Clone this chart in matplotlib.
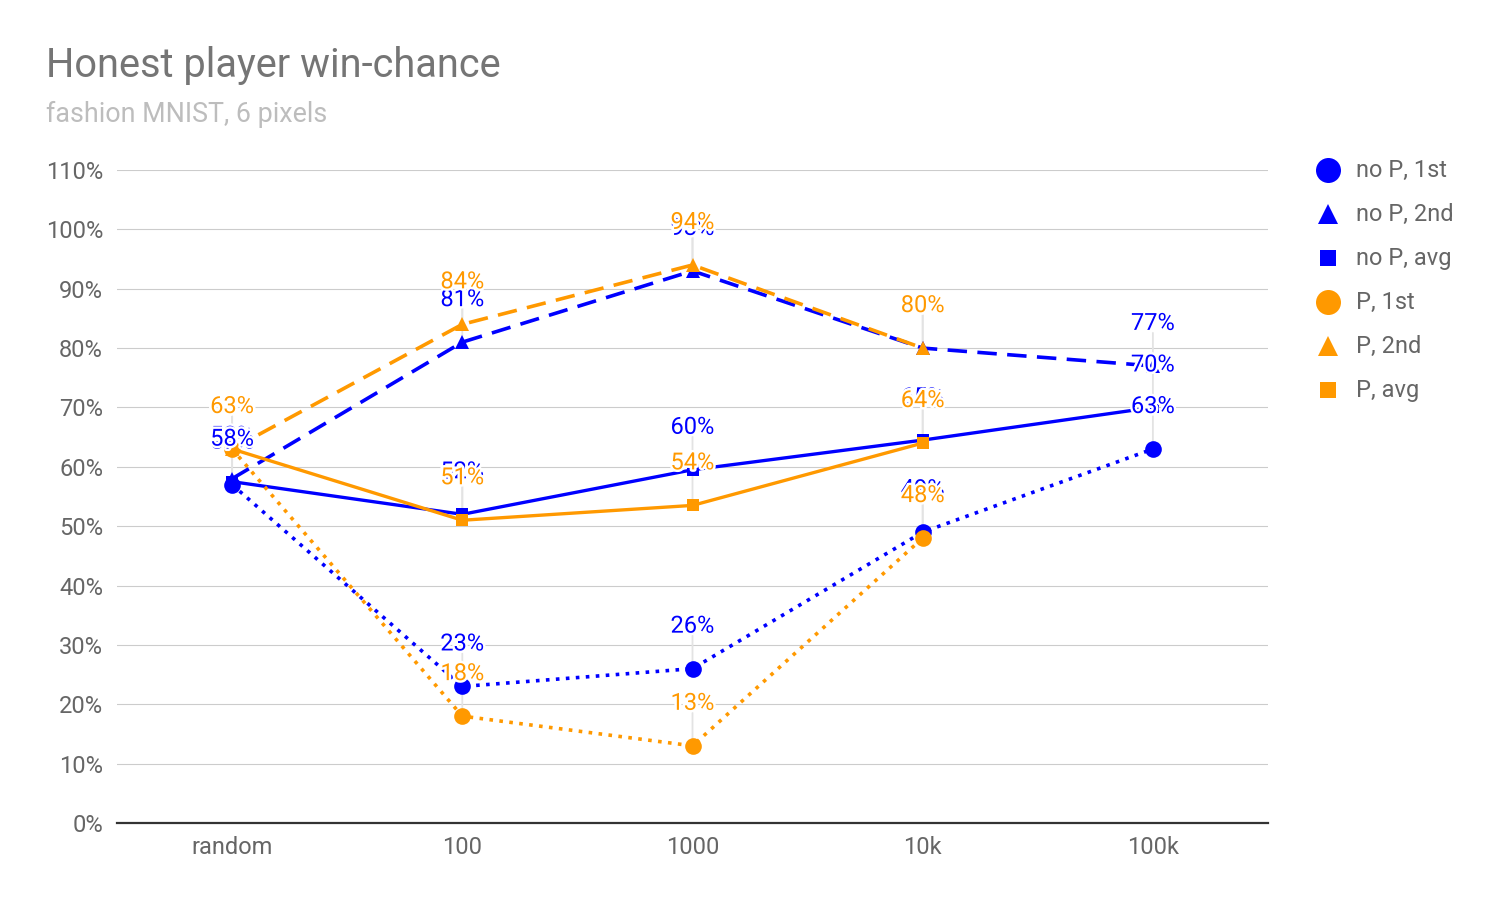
import matplotlib
matplotlib.use("Agg")
import matplotlib.pyplot as plt
from matplotlib.lines import Line2D
import matplotlib.patheffects as pe

plt.rcParams['font.family'] = ['Roboto', 'DejaVu Sans']
plt.rcParams['lines.scale_dashes'] = False

categories = ["random", "100", "1000", "10k", "100k"]

noP_1st = [57, 23, 26, 49, 63]
noP_2nd = [58, 81, 93, 80, 77]
noP_avg = [57.5, 52, 59.5, 64.5, 70]
P_1st = [63, 18, 13, 48]
P_2nd = [63, 84, 94, 80]
P_avg = [63, 51, 53.5, 64]

series_names = ["no P, 1st", "no P, 2nd", "no P, avg", "P, 1st", "P, 2nd", "P, avg"]
series_values = [noP_1st, noP_2nd, noP_avg, P_1st, P_2nd, P_avg]

y_ticks = list(range(0, 111, 10))

BLUE = "#0000ff"
ORANGE = "#ff9900"
styles = [
    dict(color=BLUE, marker="o", ms=12, ls=(0, (2.6, 4.6)), lw=2.6),
    dict(color=BLUE, marker="^", ms=10.5, ls=(0, (14, 7.5)), lw=2.6),
    dict(color=BLUE, marker="s", ms=9, ls="-", lw=2.4),
    dict(color=ORANGE, marker="o", ms=12, ls=(0, (2.6, 4.6)), lw=2.6),
    dict(color=ORANGE, marker="^", ms=10.5, ls=(0, (14, 7.5)), lw=2.6),
    dict(color=ORANGE, marker="s", ms=9, ls="-", lw=2.4),
]
legend_ms = {"o": 18, "^": 14, "s": 12}

W, H = 1499, 905
fig = plt.figure(figsize=(W / 100, H / 100), dpi=100)
ax = fig.add_axes([117 / W, 1 - 823 / H, (1268 - 117) / W, (823 - 170) / H])

ax.set_xlim(-0.5, len(categories) - 0.5)
ax.set_ylim(0, 110)
ax.set_yticks(y_ticks)
ax.set_yticklabels([f"{v}%" for v in y_ticks])
ax.set_xticks(range(len(categories)))
ax.set_xticklabels(categories)
ax.tick_params(axis="both", length=0, labelsize=17, labelcolor="#666666")
ax.tick_params(axis="y", pad=10)
ax.tick_params(axis="x", pad=9.5)
ax.grid(axis="y", color="#cccccc", lw=0.8, zorder=0)
ax.set_axisbelow(True)
for s in ["top", "right", "left"]:
    ax.spines[s].set_visible(False)
ax.spines["bottom"].set_color("#333333")
ax.spines["bottom"].set_linewidth(1.6)
ax.spines["bottom"].set_zorder(3)

for vals, st in zip(series_values, styles):
    xs = list(range(len(vals)))
    ax.plot(xs, vals, color=st["color"], lw=st["lw"], ls=st["ls"],
            marker=st["marker"], markersize=st["ms"], markeredgewidth=0,
            dash_capstyle="butt", zorder=4, clip_on=False)

# leader lines
for vals in series_values:
    for i, v in enumerate(vals):
        ax.annotate("", xy=(i, v), xytext=(0, 33), textcoords="offset pixels",
                    arrowprops=dict(arrowstyle="-", color="#e3e3e3", lw=1.3,
                                    shrinkA=0, shrinkB=0), zorder=2)

# data labels
for vals, st in zip(series_values, styles):
    for i, v in enumerate(vals):
        ax.annotate(f"{int(v + 0.5)}%", xy=(i, v), xytext=(0, 42.5),
                    textcoords="offset pixels", ha="center", va="center",
                    fontsize=17, color=st["color"], zorder=6,
                    path_effects=[pe.withStroke(linewidth=3.5, foreground="white")])

# titles
fig.text(46 / W, 1 - 77 / H, "Honest player win-chance", fontsize=28.6,
         color="#757575", va="baseline", ha="left")
fig.text(46 / W, 1 - 122 / H, "fashion MNIST, 6 pixels", fontsize=19.4,
         color="#bdbdbd", va="baseline", ha="left")

# legend
for k, (name, st) in enumerate(zip(series_names, styles)):
    yy = 1 - (170 + 44 * k) / H
    fig.add_artist(Line2D([1328 / W], [yy], transform=fig.transFigure,
                          marker=st["marker"], markersize=legend_ms[st["marker"]],
                          color=st["color"], markeredgewidth=0, ls="none"))
    fig.text(1356 / W, yy, name, fontsize=17, color="#666666",
             va="center", ha="left")

fig.savefig("out.png", dpi=100)
